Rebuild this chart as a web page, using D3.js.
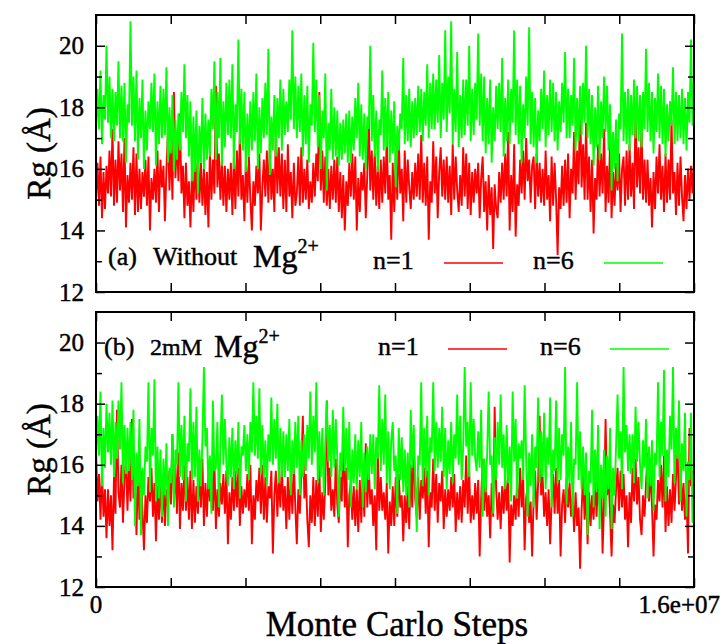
<!DOCTYPE html>
<html>
<head>
<meta charset="utf-8">
<script src="https://cdn.jsdelivr.net/npm/d3@7"></script>
<style>
  body { margin: 0; background: #fff; }
  svg text { font-family: "Liberation Serif", "Times New Roman", serif; fill: #000; stroke: #000; stroke-width: 0.45px; }
</style>
</head>
<body>
<script>
// Rg traces, 400 samples over 0 .. 1.6e7 MC steps
// panel (a): without Mg2+
var rgA_n1 = [
  15.0,16.2,14.8,16.4,14.4,15.9,14.7,16.1,15.2,16.6,15.1,17.3,14.8,16.3,14.9,16.9,15.3,16.5,14.6,17.0,
  14.1,15.8,14.9,16.2,15.0,16.7,14.5,16.5,14.6,16.0,14.7,15.9,15.1,16.3,14.8,16.4,14.0,15.7,15.0,16.0,
  14.9,16.6,14.6,16.3,15.4,16.1,14.3,16.0,17.2,15.3,16.8,15.0,18.5,15.7,17.0,15.6,17.8,15.2,16.1,14.4,
  16.2,14.8,15.6,14.1,15.8,14.6,16.4,15.0,16.5,14.9,16.2,14.8,16.0,14.5,15.9,14.1,16.6,15.0,16.3,15.2,
  18.7,15.4,16.5,15.0,16.3,14.8,16.1,14.6,16.0,15.0,16.2,14.5,16.4,14.7,16.6,15.1,17.2,15.0,15.8,14.3,
  16.3,14.9,16.4,15.0,14.0,15.6,14.8,16.1,15.2,16.5,14.0,15.4,16.3,15.1,16.6,14.9,16.8,15.0,16.0,14.6,
  17.3,15.2,16.7,15.1,16.5,14.7,16.3,14.6,16.8,15.1,15.9,14.4,16.2,14.8,
  15.2,16.4,14.8,16.7,14.9,16.0,15.0,16.3,14.7,15.6,14.9,16.2,15.1,16.5,15.6,18.5,15.3,16.6,14.9,16.4,
  14.8,16.0,14.7,16.1,15.0,16.3,14.9,16.4,14.6,15.9,14.4,15.8,14.0,15.6,14.8,16.2,15.1,16.5,15.0,16.4,
  14.0,15.7,14.6,15.9,15.3,16.2,14.4,15.8,17.7,15.3,16.6,15.0,16.5,14.8,16.1,14.7,16.3,14.9,16.4,15.2,
  17.0,15.0,15.8,13.7,16.2,14.6,16.4,15.0,17.1,15.2,16.0,14.3,16.6,14.9,16.3,15.4,14.7,15.9,15.0,16.2,
  15.1,16.5,15.0,17.1,14.9,16.2,14.8,16.4,13.7,15.6,14.9,16.9,15.2,16.4,14.4,15.9,16.7,15.1,16.3,15.0,
  16.4,14.9,16.1,14.5,16.8,15.0,16.4,15.3,14.6,15.8,14.8,16.7,15.1,16.5,14.7,16.2,14.5,15.9,14.9,16.0,
  15.2,16.2,14.4,15.7,16.4,14.6,15.6,14.0,15.8,14.5,15.4,13.4,15.5,14.7,
  14.4,15.9,14.9,16.2,15.0,16.5,15.1,17.2,14.0,15.8,14.6,16.8,13.8,15.5,14.8,16.3,15.2,16.6,15.0,17.0,
  15.6,16.3,14.9,16.1,16.4,14.7,16.5,15.1,16.2,14.9,16.0,14.8,16.6,15.0,15.8,14.3,16.4,14.8,16.2,15.0,
  13.2,15.4,14.7,16.1,14.8,16.3,14.9,16.5,14.4,16.0,15.2,17.2,15.0,16.6,15.5,18.3,15.4,16.8,15.0,17.5,
  15.0,16.4,14.6,16.3,13.9,15.7,15.0,16.8,15.1,16.5,15.2,17.3,14.6,16.1,14.9,16.9,14.4,15.9,14.8,16.2,
  15.3,16.5,14.6,16.0,16.4,14.8,16.6,15.0,16.8,15.1,16.2,14.7,18.0,15.4,16.7,15.2,17.4,15.0,16.3,14.9,
  16.3,14.8,15.7,14.1,15.9,14.7,16.4,15.2,16.8,15.0,16.1,14.6,16.5,14.9,16.3,15.0,17.6,15.2,15.9,14.5,
  16.2,14.8,16.4,15.1,14.3,15.8,14.7,16.0,15.0,16.1,15.2,16.3
];
var rgA_n6 = [
  17.2,18.6,17.3,19.2,16.8,18.4,17.6,20.0,17.5,19.0,17.0,18.6,16.9,18.5,17.4,19.5,17.0,18.7,16.9,18.8,
  16.2,18.1,17.5,20.8,17.4,19.0,16.9,19.2,16.3,18.3,17.0,18.9,16.0,17.9,16.6,18.2,17.3,18.8,17.2,19.1,
  16.1,18.2,16.8,18.7,17.0,18.6,17.1,19.3,16.2,18.0,16.5,18.4,15.9,17.6,16.3,17.8,16.6,18.5,17.2,19.4,
  17.0,18.4,16.4,18.2,15.6,17.7,15.9,17.9,15.2,17.4,16.2,18.3,16.0,17.8,16.3,17.6,16.4,18.6,17.3,19.5,
  16.3,18.5,17.0,19.6,16.1,18.2,16.7,18.8,17.1,18.9,17.0,19.4,16.0,18.1,17.2,20.2,16.8,18.6,16.6,18.5,
  15.9,17.8,16.4,18.2,16.6,18.5,16.9,19.1,16.0,18.0,16.5,18.3,17.0,18.8,17.1,19.9,15.8,17.7,16.6,18.4,
  16.4,18.3,17.0,18.9,16.6,18.6,17.1,18.2,17.2,18.9,17.6,20.5,17.3,19.0,
  17.0,18.7,17.2,19.1,16.4,18.4,16.8,18.7,16.2,18.1,17.4,20.1,17.2,18.9,16.7,18.4,16.0,17.9,17.0,19.1,
  15.3,17.5,16.6,18.6,16.3,18.0,16.4,17.9,16.1,17.5,16.3,17.6,16.5,17.8,16.2,17.9,16.2,17.7,16.6,18.3,
  17.0,18.8,16.4,18.1,16.3,17.8,16.0,17.7,17.3,20.0,16.9,18.4,16.4,17.9,15.9,17.6,17.1,19.2,16.6,18.3,
  16.7,18.5,16.2,17.9,16.5,18.2,15.4,17.4,16.6,17.8,17.3,19.6,16.8,18.4,16.9,18.6,16.7,18.2,17.0,18.3,
  17.1,18.7,17.2,18.6,16.9,18.5,17.4,19.4,17.0,18.8,17.3,19.1,17.3,18.9,17.5,19.7,17.0,18.8,17.6,20.5,
  17.2,19.0,17.8,20.8,16.8,18.6,17.2,19.8,16.7,18.4,17.0,18.9,17.1,18.9,17.4,20.0,16.9,18.6,17.1,18.8,
  17.6,20.4,17.4,19.1,16.9,19.0,16.5,18.3,16.8,18.9,16.2,18.0,16.9,18.7,
  17.3,18.8,17.2,19.6,16.4,18.3,16.9,18.9,16.8,18.6,17.5,20.5,17.1,18.9,16.8,18.7,16.2,18.1,17.0,19.0,
  17.4,20.6,16.8,18.5,16.7,18.3,16.2,17.9,16.9,18.6,17.3,19.2,16.7,18.4,17.1,18.9,17.2,18.8,16.9,18.5,
  16.6,18.2,17.2,18.8,17.5,19.8,17.0,18.6,17.0,18.4,17.4,19.6,16.6,18.3,16.9,18.7,17.1,18.8,17.5,20.0,
  17.0,18.6,16.8,18.4,16.1,18.0,16.7,18.7,16.3,18.2,17.0,19.0,17.2,18.7,16.6,18.1,15.3,17.2,16.0,17.6,
  15.6,17.8,17.3,20.4,16.9,18.5,16.8,18.6,16.6,18.4,17.1,18.9,17.0,18.7,16.9,18.4,16.7,18.5,17.3,19.9,
  17.2,18.8,16.9,18.5,16.5,18.3,17.2,19.1,17.0,18.7,16.8,18.6,16.4,18.1,16.9,18.2,17.4,19.3,16.8,18.5,
  16.9,18.4,17.0,18.6,16.8,18.3,16.6,18.5,17.5,20.2,17.4,19.0
];
// panel (b): 2mM Mg2+
var rgB_n1 = [
  16.5,14.8,15.7,14.2,15.8,14.3,15.2,13.6,15.2,14.0,15.0,13.2,15.6,14.4,17.8,15.1,14.6,16.0,14.1,15.5,
  16.2,14.5,16.1,14.8,17.5,14.9,15.4,13.7,15.9,14.2,15.8,14.5,13.2,15.0,14.1,15.6,14.8,15.9,14.3,15.4,
  13.5,15.3,14.2,15.6,14.1,15.5,14.0,15.2,14.6,15.8,14.7,17.0,14.8,16.0,14.4,16.4,13.9,15.4,14.5,16.0,
  14.5,15.6,14.2,15.8,13.9,15.5,14.1,15.3,14.4,15.9,14.6,16.2,14.0,15.4,14.3,15.7,14.8,15.9,14.5,16.1,
  13.9,15.2,14.3,15.4,14.7,15.7,14.4,15.8,13.4,15.1,14.2,15.6,14.5,15.8,14.6,15.9,14.0,15.3,14.4,15.2,
  14.6,15.7,14.5,16.0,13.4,15.0,14.2,15.5,14.8,15.9,14.4,16.0,14.2,15.6,14.1,15.3,14.9,15.8,13.1,15.0,
  15.8,14.3,15.6,14.6,16.0,14.5,15.3,13.9,15.6,14.2,15.7,14.4,16.1,14.6,
  13.4,15.2,14.4,15.8,17.6,14.9,15.7,14.2,13.3,15.0,14.1,15.6,14.0,15.5,14.3,16.0,13.8,15.1,14.2,15.4,
  18.1,15.0,15.9,14.5,15.2,14.3,16.2,14.7,14.1,15.6,14.8,17.0,14.6,15.9,13.3,15.0,15.4,14.2,15.3,14.0,
  15.2,13.8,15.5,14.1,15.7,14.3,16.7,14.6,15.9,14.7,15.2,14.0,15.0,13.2,16.4,14.5,15.6,14.5,15.1,14.2,
  15.4,13.1,14.8,14.0,15.3,14.0,15.6,14.3,15.7,14.6,15.0,13.5,15.0,14.1,15.3,13.9,16.0,14.6,16.8,14.9,
  14.3,15.6,14.2,15.5,14.9,15.9,14.4,15.8,13.3,15.1,14.6,16.2,14.5,15.7,14.1,15.4,14.8,15.8,13.9,15.2,
  14.3,15.2,14.5,15.6,14.6,15.7,13.8,15.1,14.2,15.3,14.1,15.5,14.6,16.3,14.4,15.8,14.1,15.0,14.2,15.4,
  14.4,15.5,13.0,14.9,16.2,14.5,15.6,14.3,15.0,13.6,15.4,14.3,17.9,15.2,
  14.2,15.1,13.9,15.3,14.4,15.6,14.5,15.7,12.8,14.7,14.0,15.0,14.2,15.5,14.3,15.9,14.6,15.6,13.2,14.9,
  15.3,14.1,14.8,13.0,14.9,15.8,14.2,15.4,17.6,15.0,15.6,14.3,15.1,14.0,15.2,13.4,14.8,15.7,14.4,15.9,
  14.4,15.5,13.0,14.7,15.2,14.1,15.6,14.6,15.4,14.3,15.0,13.8,15.1,14.0,14.6,12.6,14.5,15.7,14.2,15.3,
  13.4,15.1,14.0,15.0,14.2,15.5,14.3,15.6,14.7,15.8,13.1,14.8,17.5,15.0,15.6,14.4,13.0,14.7,14.1,15.2,
  15.9,14.5,15.8,14.6,15.7,14.2,15.0,13.3,15.1,14.1,15.9,14.8,16.2,14.7,15.6,14.2,13.7,15.0,14.3,15.4,
  16.4,14.8,15.9,14.6,13.0,14.7,14.2,15.5,14.8,16.0,14.6,16.3,13.8,15.3,14.0,15.2,14.1,15.7,14.5,15.6,
  16.5,14.7,15.9,14.5,15.4,14.2,15.0,13.1,17.2,15.3,15.8,14.6
];
var rgB_n6 = [
  16.2,17.6,16.3,18.4,15.3,17.2,15.9,18.0,16.4,17.7,16.0,18.1,15.6,17.4,16.2,18.1,16.5,18.7,15.4,17.3,
  15.7,17.2,15.8,17.4,15.5,17.8,14.0,16.4,15.3,17.5,13.7,15.9,15.0,16.6,16.1,18.7,15.1,17.2,16.3,18.8,
  14.8,16.6,14.9,16.5,14.3,16.2,15.0,16.7,14.0,15.9,15.4,17.0,14.6,16.5,16.0,18.7,15.6,17.3,15.5,17.6,
  14.8,16.7,16.1,18.5,15.5,17.4,15.6,17.9,14.8,16.5,15.3,16.8,19.2,16.6,17.2,15.2,16.3,14.4,18.1,15.8,
  15.9,17.4,14.6,16.6,18.3,16.0,17.5,16.0,15.3,16.9,15.6,17.2,15.2,16.8,15.7,17.4,14.9,16.6,16.3,17.3,
  15.8,17.0,15.5,17.4,16.4,18.7,16.3,17.6,16.2,18.5,15.7,17.3,15.6,16.8,15.3,17.0,16.1,18.2,16.0,17.5,
  16.2,18.0,15.4,17.2,15.6,17.1,15.6,17.0,15.8,17.5,15.0,16.8,15.7,17.4,
  15.9,17.6,15.0,16.8,15.6,17.0,15.8,17.3,16.2,18.4,16.0,17.6,16.4,18.7,15.4,17.1,15.6,17.2,15.0,16.7,
  18.1,16.1,17.3,15.6,17.8,15.9,17.5,16.2,14.3,16.4,15.8,17.9,15.8,17.2,15.5,17.4,14.6,16.5,15.4,17.0,
  15.2,16.8,15.6,17.4,14.6,16.4,15.1,16.6,15.5,17.0,15.7,17.0,15.2,16.9,16.2,18.6,15.8,17.5,16.0,18.3,
  15.4,17.1,15.2,16.8,17.4,15.8,16.3,14.4,17.2,15.5,16.9,15.1,16.5,15.0,16.4,14.6,17.8,15.9,17.3,15.6,
  13.8,16.3,16.0,18.7,15.3,17.2,15.6,17.6,15.0,16.9,16.4,18.7,15.8,17.4,15.9,17.2,16.1,17.9,15.6,17.2,
  15.2,16.8,15.7,17.4,15.4,17.0,16.2,18.3,16.0,17.6,15.5,16.6,19.2,16.6,17.4,15.6,18.7,16.3,17.5,16.2,
  15.8,17.1,15.9,17.8,14.3,16.2,15.1,16.4,18.4,16.0,16.3,14.4,16.9,15.5,
  17.4,16.0,18.3,15.9,17.0,15.2,17.3,15.4,16.6,14.8,18.4,16.1,17.5,14.9,16.7,16.2,16.8,15.5,18.6,16.2,
  14.3,16.4,15.3,17.0,14.6,16.6,15.9,18.2,15.4,17.1,15.6,17.7,15.2,16.9,16.0,18.2,14.6,16.5,15.8,18.1,
  15.4,17.2,15.5,17.0,16.3,19.2,14.7,16.6,15.4,17.4,14.3,16.2,16.0,18.7,15.5,17.1,15.2,16.6,15.0,16.4,
  13.7,15.8,15.4,17.8,14.6,16.5,15.1,17.3,13.9,16.0,14.9,16.5,14.3,16.3,15.2,17.2,13.9,15.9,15.0,16.6,
  18.3,16.2,17.1,15.2,19.2,16.4,17.3,15.8,17.0,15.7,17.0,15.4,17.9,16.1,17.4,16.0,15.2,16.8,15.9,17.5,
  14.9,16.6,15.3,16.8,14.5,16.4,16.0,18.7,15.6,17.4,16.3,19.1,14.8,16.5,15.6,17.6,16.5,19.2,15.4,17.2,
  16.2,18.1,14.8,16.7,15.8,17.7,14.3,16.1,15.5,17.7,14.1,16.0
];

var stepMax = 1.6e7;
var xTicks = [0, 2e6, 4e6, 6e6, 8e6, 1e7, 1.2e7, 1.4e7, 1.6e7];
var xTickLabels = ["0", "1.6e+07"];
var yTicks = [12, 14, 16, 18, 20];
var yMinorTicks = [13, 15, 17, 19];
var seriesNames = ["n=1", "n=6"];
var seriesColors = ["#ff0000", "#00ff00"];

var W = 724, H = 644;
var svg = d3.select("body").append("svg").attr("width", W).attr("height", H);

var x = d3.scaleLinear().domain([0, stepMax]).range([96, 694]);

var panels = [
  { id: "a", top: 15, bottom: 292, data: [rgA_n1, rgA_n6], tag: "(a)", cond: "Without", condSize: 26,
    legendY: 265, nY: 269, lineY: 263, tagX: 108, condX: 153, mgX: 253, nX: [373, 533], lineX: [444, 604] },
  { id: "b", top: 312, bottom: 587, data: [rgB_n1, rgB_n6], tag: "(b)", cond: "2mM", condSize: 24,
    legendY: 355, nY: 355, lineY: 349, tagX: 104, condX: 150, mgX: 214, nX: [378, 540], lineX: [448, 610] }
];

panels.forEach(function(p, pi) {
  var y = d3.scaleLinear().domain([12, 21]).range([p.bottom, p.top]);
  var g = svg.append("g");

  g.append("clipPath").attr("id", "clip" + p.id)
    .append("rect").attr("x", x(0)).attr("y", p.top)
    .attr("width", x(stepMax) - x(0)).attr("height", p.bottom - p.top);

  p.data.forEach(function(arr, si) {
    var line = d3.line()
      .x(function(d, i) { return x(i * stepMax / (arr.length - 1)); })
      .y(function(d) { return y(d); });
    g.append("path")
      .attr("clip-path", "url(#clip" + p.id + ")")
      .attr("d", line(arr))
      .attr("fill", "none")
      .attr("stroke", seriesColors[si])
      .attr("stroke-width", 1.9);
  });

  // inward ticks on all four sides
  var left = g.append("g").attr("transform", "translate(" + x(0) + ",0)")
    .call(d3.axisLeft(y).tickValues(yTicks).tickSize(-9).tickPadding(12).tickFormat(d3.format("d")));
  left.append("g").call(d3.axisLeft(y).tickValues(yMinorTicks).tickSize(-6).tickFormat(""));
  var right = g.append("g").attr("transform", "translate(" + x(stepMax) + ",0)")
    .call(d3.axisRight(y).tickValues(yTicks).tickSize(-9).tickFormat(""));
  right.append("g").call(d3.axisRight(y).tickValues(yMinorTicks).tickSize(-6).tickFormat(""));
  g.append("g").attr("transform", "translate(0," + p.top + ")")
    .call(d3.axisTop(x).tickValues(xTicks).tickSize(-9).tickFormat(""));
  g.append("g").attr("transform", "translate(0," + p.bottom + ")")
    .call(d3.axisBottom(x).tickValues(xTicks).tickSize(-9).tickFormat(""));

  g.selectAll(".domain").remove();
  g.selectAll(".tick line").attr("stroke", "#000").attr("stroke-width", 1.5);
  left.selectAll("text").attr("font-size", 25);

  g.append("rect")
    .attr("x", x(0)).attr("y", p.top)
    .attr("width", x(stepMax) - x(0)).attr("height", p.bottom - p.top)
    .attr("fill", "none").attr("stroke", "#000").attr("stroke-width", 2);

  // y label
  g.append("text")
    .attr("transform", "translate(50," + ((p.top + p.bottom) / 2) + ") rotate(-90)")
    .attr("text-anchor", "middle")
    .attr("font-size", 33)
    .text("Rg (Å)");

  // legend
  g.append("text").attr("x", p.tagX).attr("y", p.legendY).attr("font-size", 26).text(p.tag);
  g.append("text").attr("x", p.condX).attr("y", p.legendY).attr("font-size", p.condSize).text(p.cond);
  var mg = g.append("text").attr("x", p.mgX).attr("y", p.legendY + 2).attr("font-size", 32);
  mg.append("tspan").text("Mg");
  mg.append("tspan").attr("font-size", 20).attr("dy", -14).text("2+");

  seriesNames.forEach(function(name, si) {
    g.append("text").attr("x", p.nX[si]).attr("y", p.nY).attr("font-size", 26).text(name);
    g.append("line")
      .attr("x1", p.lineX[si]).attr("x2", p.lineX[si] + 59)
      .attr("y1", p.lineY).attr("y2", p.lineY)
      .attr("stroke", seriesColors[si]).attr("stroke-width", 1.5);
  });

  if (pi === 1) {
    g.append("text").attr("x", x(0)).attr("y", 613).attr("text-anchor", "middle")
      .attr("font-size", 25).text(xTickLabels[0]);
    g.append("text").attr("x", 720).attr("y", 613).attr("text-anchor", "end")
      .attr("font-size", 25).text(xTickLabels[1]);
  }
});

svg.append("text")
  .attr("x", 397).attr("y", 636)
  .attr("text-anchor", "middle")
  .attr("font-size", 35)
  .text("Monte Carlo Steps");
</script>
</body>
</html>
